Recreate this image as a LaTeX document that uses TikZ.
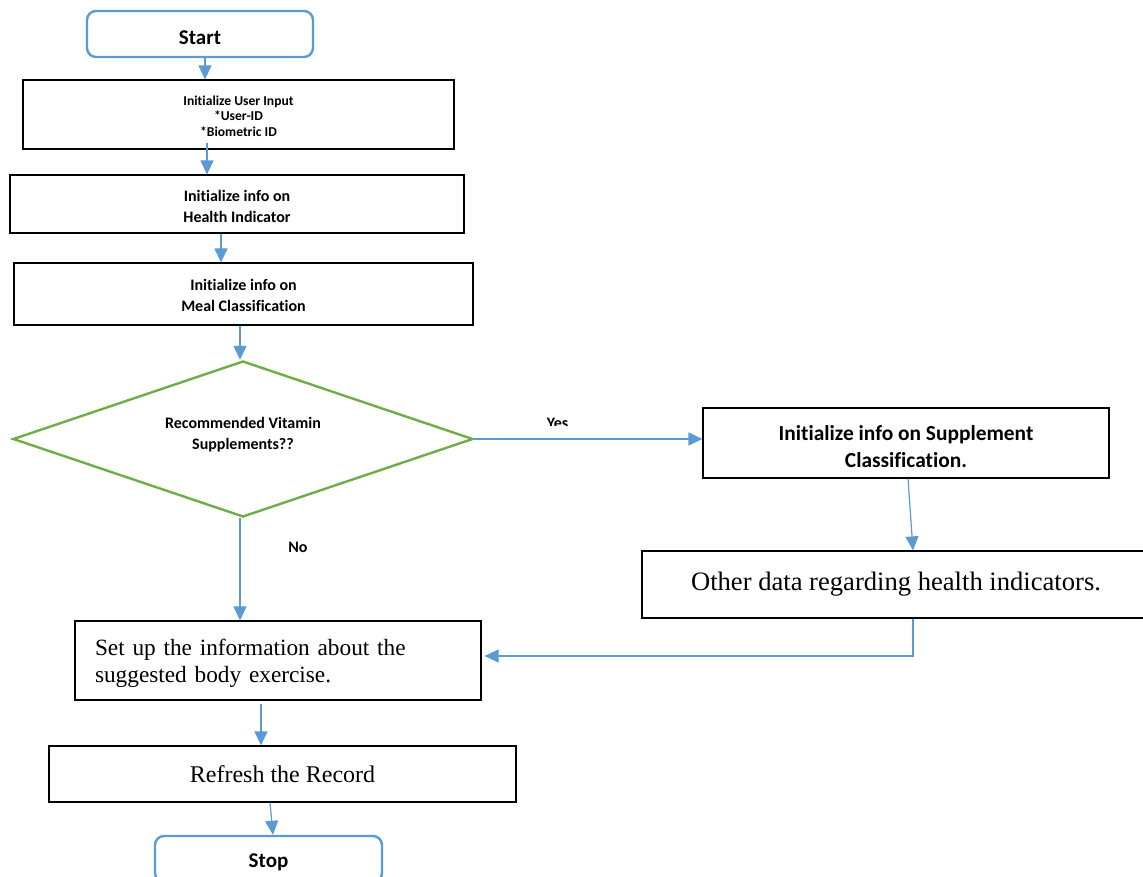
\documentclass[tikz,border=0pt]{standalone}
\usepackage{fontspec}
\setmainfont{Liberation Serif}
\newfontfamily\calibfont[Ligatures=NoCommon]{Carlito}
\usetikzlibrary{arrows.meta,shapes.geometric}
\definecolor{lineblue}{HTML}{5B9BD5}
\definecolor{decgreen}{HTML}{70AD47}
\newcommand{\cbf}[2]{\calibfont\bfseries\fontsize{#1}{#2}\selectfont}
\begin{document}
\begin{tikzpicture}[x=1pt,y=-1pt,
  conn/.style={draw=lineblue, line width=1.2pt, -{Triangle[width=13pt,length=14pt]}},
  box/.style={draw=black, line width=1.2pt, rectangle, inner sep=0pt, align=center},
  term/.style={draw=lineblue, line width=2.4pt, rectangle, rounded corners=9pt, inner sep=0pt},
  lbl/.style={inner sep=0pt}]
\useasboundingbox (0,0) rectangle (1143,877);
\clip (0,0) rectangle (1143,877);

\node[term, minimum width=226pt, minimum height=46pt,
  label={[font=\cbf{21}{25}, yshift=-3.5pt]center:Start}] (start) at (200,34) {};
\node[box, minimum width=431pt, minimum height=69pt,
  label={[font=\cbf{13.6}{15.5}, align=center, yshift=-1.5pt]center:Initialize User Input\\*User-ID\\*Biometric ID}] (b1) at (238.5,114.5) {};
\node[box, minimum width=454pt, minimum height=58pt,
  label={[font=\cbf{16}{21}, align=center, yshift=-2.5pt]center:Initialize info on\\Health Indicator}] (b2) at (237,204) {};
\node[box, minimum width=459pt, minimum height=62pt,
  label={[font=\cbf{16}{21}, align=center, yshift=-1.5pt]center:Initialize info on\\Meal Classification}] (b3) at (243.5,294) {};
\node[diamond, draw=decgreen, line width=2.4pt, minimum width=460pt, minimum height=156pt, inner sep=0pt,
  label={[font=\cbf{16}{21}, align=center, yshift=4.5pt]center:Recommended Vitamin\\Supplements??}] (dec) at (243,439) {};
\node[box, minimum width=406pt, minimum height=70pt,
  label={[font=\cbf{21.4}{27}, align=center, yshift=-4pt]center:Initialize info on Supplement\\Classification.}] (b4) at (906,443) {};
\node[box, minimum width=508pt, minimum height=67pt, font=\fontsize{26.6}{30}\selectfont] (b5) at (896,584.5)
  {Other data regarding health indicators.};
\node[box, minimum width=406pt, minimum height=79pt,
  label={[font=\fontsize{23.3}{27}\selectfont, text width=366pt, align=left, yshift=-3pt]center:Set up the information about the\\suggested body exercise.}] (b6) at (278,660.5) {};
\node[box, minimum width=467pt, minimum height=56pt, font=\fontsize{24}{27}\selectfont] (b7) at (282.5,774)
  {Refresh the Record};
\node[term, minimum width=227pt, minimum height=46pt,
  label={[font=\cbf{21}{25}, yshift=-3.5pt]center:Stop}] (stop) at (268.5,859) {};

\draw[conn] ([xshift=5pt]start.south) -- ([xshift=5pt]start.south |- b1.north);
\draw[conn] ([xshift=-31.5pt,yshift=7pt]b1.south) -- ([xshift=-31.5pt]b1.south |- b2.north);
\draw[conn] ([xshift=-16pt]b2.south) -- ([xshift=-16pt]b2.south |- b3.north);
\draw[conn] ([xshift=-3.5pt]b3.south) -- ([xshift=-3.5pt]b3.south |- dec.north);
\draw[conn] (dec.east) -- (dec.east -| b4.west);
\draw[conn] ([xshift=2pt]b4.south) -- ([xshift=17pt]b5.north);
\draw[conn] ([xshift=17pt]b5.south) |- ([xshift=3pt,yshift=4.5pt]b6.east);
\draw[conn] ([xshift=-3pt]dec.south) -- ([xshift=-3pt]dec.south |- b6.north);
\draw[conn] ([xshift=-17pt,yshift=-3pt]b6.south) -- ([xshift=-17pt]b6.south |- b7.north);
\draw[conn] ([xshift=-12.5pt]b7.south) -- ([xshift=4.5pt]stop.north);

\begin{scope}
  \clip (530,400) rectangle (590,425);
  \node[lbl, anchor=base, font=\cbf{16}{18}] (yes) at (557.5,428) {Yes};
\end{scope}
\node[lbl, font=\cbf{16}{18}] (no) at (298,547) {No};
\end{tikzpicture}
\end{document}
